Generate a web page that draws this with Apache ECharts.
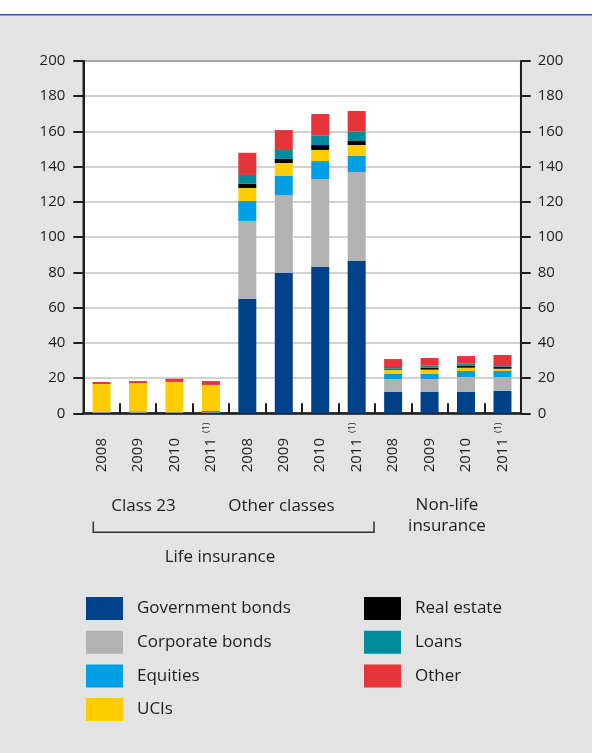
<!DOCTYPE html>
<html>
<head>
<meta charset="utf-8">
<script src="https://cdn.jsdelivr.net/npm/echarts@6/dist/echarts.min.js"></script>
<style>
  html, body { margin: 0; padding: 0; background: #e3e3e3; }
  #chart { width: 592px; height: 753px; }
</style>
</head>
<body>
<div id="chart"></div>
<script>
// Investment portfolio of insurers, EUR billion, by asset class
const categories = ['2008', '2009', '2010', '2011', '2008', '2009', '2010', '2011', '2008', '2009', '2010', '2011'];
const footnoteIdx = [3, 7, 11];
const yTicks = [0, 20, 40, 60, 80, 100, 120, 140, 160, 180, 200];

const seriesNames = ['Government bonds', 'Corporate bonds', 'Equities', 'UCIs', 'Real estate', 'Loans', 'Other'];
const seriesColors = ['#00428a', '#b2b2b2', '#009fe3', '#ffcc00', '#000000', '#008c9c', '#e7343a'];

const governmentBonds = [0.3, 0.3, 0.3, 0.3, 65.0, 79.8, 83.1, 86.5, 12.1, 12.1, 12.1, 12.7];
const corporateBonds  = [0.4, 1.0, 0.4, 0.4, 44.2, 44.1, 49.9, 50.5, 7.4, 7.4, 8.5, 7.9];
const equities        = [0, 0, 0, 0.6, 11.3, 10.8, 10.2, 9.1, 2.8, 2.8, 3.4, 3.4];
const ucis            = [15.9, 15.9, 17.1, 14.8, 7.4, 7.4, 6.3, 6.2, 2.5, 2.5, 1.9, 1.3];
const realEstate      = [0, 0, 0, 0, 2.4, 2.3, 2.8, 2.3, 0.5, 1.1, 1.1, 1.2];
const loans           = [0, 0, 0, 0, 5.0, 5.1, 5.3, 5.3, 1.0, 1.1, 1.2, 0.9];
const other           = [1.2, 1.1, 1.8, 2.2, 12.6, 11.3, 12.3, 11.7, 4.5, 4.4, 4.3, 5.7];

const seriesData = [governmentBonds, corporateBonds, equities, ucis, realEstate, loans, other];

const FONT = '"Open Sans", "Noto Sans", sans-serif';
const TEXT = '#1e1e1e';
const CAPTION = 17;

const chart = echarts.init(document.getElementById('chart'), null, { renderer: 'canvas' });

function yAxis(position, margin) {
  return {
    type: 'value',
    position: position,
    min: yTicks[0],
    max: yTicks[yTicks.length - 1],
    interval: yTicks[1] - yTicks[0],
    axisLine: { show: true, lineStyle: { color: '#1e1e1e', width: 2 } },
    axisTick: { show: true, inside: false, length: 10, lineStyle: { color: '#1e1e1e', width: 2 } },
    axisLabel: { margin: margin, fontSize: 15, color: TEXT, fontFamily: FONT },
    splitLine: { show: position === 'left', lineStyle: { color: '#c2c2c2', width: 1.5 } }
  };
}

function legend(left, names) {
  return {
    orient: 'vertical', left: left, top: 597, padding: 0,
    itemWidth: 37, itemHeight: 23, itemGap: 10.7, icon: 'rect',
    data: names,
    textStyle: { fontSize: CAPTION, color: TEXT, fontFamily: FONT, padding: [0, 0, 0, 9] },
    selectedMode: false
  };
}

const option = {
  backgroundColor: '#e3e3e3',
  animation: false,
  grid: {
    left: 83.3, right: 71.3, top: 61, bottom: 339.7,
    show: true, backgroundColor: '#ffffff', borderColor: '#1e1e1e', borderWidth: 1.5
  },
  xAxis: {
    type: 'category',
    data: categories,
    axisLine: { show: true, lineStyle: { color: '#1e1e1e', width: 2.5 } },
    axisTick: { show: true, inside: true, length: 10, alignWithLabel: false, lineStyle: { color: '#1e1e1e', width: 2 } },
    axisLabel: {
      rotate: 90,
      align: 'left',
      margin: 59,
      interval: 0,
      color: TEXT,
      fontFamily: FONT,
      formatter: function (value, index) {
        return footnoteIdx.indexOf(index) >= 0 ? '{y|' + value + '}{s|(1)}' : '{y|' + value + '}';
      },
      rich: {
        y: { fontSize: 15, color: TEXT, fontFamily: FONT },
        s: { fontSize: 9, color: TEXT, fontFamily: FONT, padding: [0, 0, 9, 5] }
      }
    },
    splitLine: { show: false }
  },
  yAxis: [yAxis('left', 18), yAxis('right', 17)],
  legend: [legend(86, seriesNames.slice(0, 4)), legend(364, seriesNames.slice(4))],
  series: seriesNames.map(function (name, i) {
    return {
      name: name,
      type: 'bar',
      stack: 'total',
      barWidth: 18,
      data: seriesData[i],
      itemStyle: { color: seriesColors[i] },
      emphasis: { disabled: true }
    };
  }),
  graphic: [
    // white header strip with a thin blue rule
    { type: 'rect', left: 0, top: 0, shape: { width: 592, height: 14 }, style: { fill: '#ffffff' }, silent: true },
    { type: 'rect', left: 0, top: 14, shape: { width: 592, height: 1.6 }, style: { fill: '#2b5ea5' }, silent: true },
    // group captions
    { type: 'text', x: 143.5, y: 506, style: { text: 'Class 23', fontSize: CAPTION, fill: TEXT, fontFamily: FONT, align: 'center', verticalAlign: 'middle' } },
    { type: 'text', x: 281.5, y: 506, style: { text: 'Other classes', fontSize: CAPTION, fill: TEXT, fontFamily: FONT, align: 'center', verticalAlign: 'middle' } },
    { type: 'text', x: 447, y: 516, style: { text: 'Non-life\ninsurance', fontSize: CAPTION, lineHeight: 21, fill: TEXT, fontFamily: FONT, align: 'center', verticalAlign: 'middle' } },
    // bracket grouping the life insurance classes
    { type: 'polyline', shape: { points: [[93.3, 521.5], [93.3, 532.3], [374, 532.3], [374, 521.5]] }, style: { stroke: '#333333', lineWidth: 1.5, fill: null } },
    { type: 'text', x: 220, y: 557, style: { text: 'Life insurance', fontSize: CAPTION, fill: TEXT, fontFamily: FONT, align: 'center', verticalAlign: 'middle' } }
  ]
};

chart.setOption(option);
</script>
</body>
</html>
